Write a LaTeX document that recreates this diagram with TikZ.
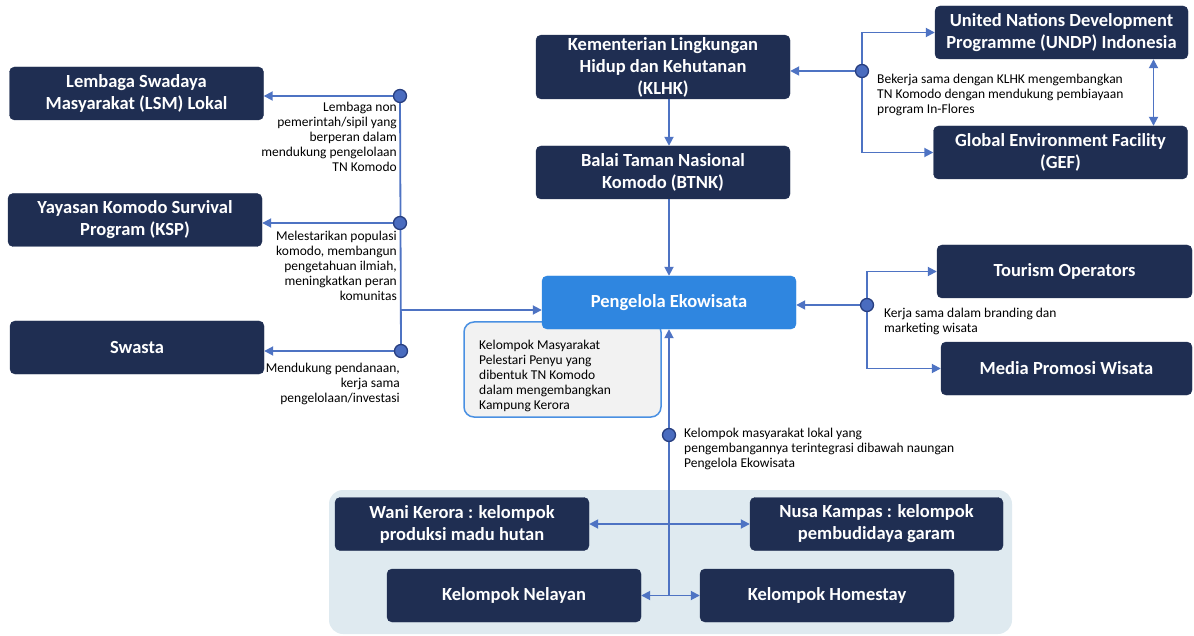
\documentclass[tikz,border=0pt]{standalone}
\usepackage{fontspec}
\setmainfont{Carlito}
\usetikzlibrary{arrows.meta}
\pgfdeclarelayer{panel}
\pgfdeclarelayer{lines}
\pgfsetlayers{panel,lines,main}
\definecolor{navy}{HTML}{1F2E52}
\definecolor{ekoblue}{HTML}{2F86E0}
\definecolor{linkblue}{HTML}{4E73C3}
\definecolor{dotblue}{HTML}{4A6CBF}
\definecolor{dotrim}{HTML}{283F80}
\definecolor{panelbg}{HTML}{DFEAF0}
\definecolor{notebg}{HTML}{F2F2F2}
\definecolor{noterim}{HTML}{4A90E2}
\tikzset{
  actor/.style={draw=navy, fill=navy, text=white, rounded corners=5pt, minimum width=254pt, minimum height=53pt, align=center, font=\fontsize{18.5}{22}\selectfont\bfseries, inner sep=2pt},
  hub/.style={circle, fill=dotblue, draw=dotrim, line width=1.3pt, minimum size=13pt, inner sep=0pt},
  wire/.style={draw=linkblue, line width=1.8pt},
  link/.style={wire, -{Triangle[length=9pt,width=9pt]}},
  both/.style={wire, {Triangle[length=9pt,width=9pt]}-{Triangle[length=9pt,width=9pt]}},
  role/.style={inner sep=0pt, font=\fontsize{13.5}{15}\selectfont},
}
\begin{document}
\begin{tikzpicture}[x=1pt,y=-1pt]
\useasboundingbox (0,0) rectangle (1194,636);
% community panel and note
\begin{pgfonlayer}{panel}
\fill[panelbg, rounded corners=14pt] (329,490) rectangle (1012,634);
\end{pgfonlayer}
\node[draw=noterim, fill=notebg, line width=1.5pt, rounded corners=10pt, minimum width=197pt, minimum height=95pt] (note) at (562.5,369.5) {};
\node[role, anchor=north west, align=left] (notetxt) at (479,340) {Kelompok Masyarakat\\Pelestari Penyu yang\\dibentuk TN Komodo\\dalam mengembangkan\\Kampung Kerora};

% actors
\node[actor] (lsm) at (136.5,93.5) {Lembaga Swadaya\\Masyarakat (LSM) Lokal};
\node[actor] (ksp) at (135,220) {Yayasan Komodo Survival\\Program (KSP)};
\node[actor] (swasta) at (137,347.5) {Swasta};
\node[actor] (klhk) at (663,67) {Kementerian Lingkungan\\Hidup dan Kehutanan\\(KLHK)};
\node[actor] (btnk) at (663,172.5) {Balai Taman Nasional\\Komodo (BTNK)};
\node[actor, fill=ekoblue, draw=ekoblue] (peng) at (669,302.5) {Pengelola Ekowisata};
\node[actor, minimum width=253pt] (undp) at (1061.5,32.5) {United Nations Development\\Programme (UNDP) Indonesia};
\node[actor] (gef) at (1060.5,152.5) {Global Environment Facility\\(GEF)};
\node[actor, minimum width=255pt] (tour) at (1064.5,271.5) {Tourism Operators};
\node[actor, minimum width=251pt] (media) at (1066.5,368.5) {Media Promosi Wisata};
\node[actor] (wani) at (462,524) {Wani Kerora : kelompok\\produksi madu hutan};
\node[actor, minimum width=253pt] (nusa) at (876.5,524) {Nusa Kampas : kelompok\\pembudidaya garam};
\node[actor] (nelayan) at (514,595.5) {Kelompok Nelayan};
\node[actor] (homestay) at (827,595.5) {Kelompok Homestay};

% hubs
\coordinate (lsplit) at (400,310);
\coordinate (mid) at (669,595.5);
\node[hub] (hl1) at (400,96) {};
\node[hub] (hl2) at (400,223) {};
\node[hub] (hl3) at (401,351) {};
\node[hub] (hk) at (862,71) {};
\node[hub] (hp) at (867,305) {};
\node[hub] (hq) at (669,435) {};

% connectors
\begin{pgfonlayer}{lines}
\draw[wire] (hl1.center) -- (hl3.center);
\draw[link] (hl1) -- (lsm.east |- hl1);
\draw[link] (hl2) -- (ksp.east |- hl2);
\draw[link] (hl3) -- (swasta.east |- hl3);
\draw[link] (lsplit) -- (peng.west |- lsplit);
\draw[link] (klhk.south -| peng) -- (btnk.north -| peng);
\draw[link] (btnk.south -| peng) -- (peng.north);
\draw[link] (hk) -- (klhk.east |- hk);
\draw[link] (hk) |- (undp.west);
\draw[link] (hk) |- (gef.west);
\draw[both] ([xshift=92pt]undp.south) -- ([xshift=93pt]gef.north);
\draw[link] (hp) -- (peng.east |- hp);
\draw[link] (hp) |- (tour.west);
\draw[link] (hp) |- (media.west);
\draw[link] (mid) -- (peng.south);
\draw[both] (nelayan.east) -- (homestay.west);
\draw[both] (wani.east) -- (nusa.west);
\end{pgfonlayer}

% labels
\node[role, anchor=north east, align=right] (lsmnote) at (397,102) {Lembaga non\\pemerintah/sipil yang\\berperan dalam\\mendukung pengelolaan\\TN Komodo};
\node[role, anchor=north east, align=right] (kspnote) at (397,231) {Melestarikan populasi\\komodo, membangun\\pengetahuan ilmiah,\\meningkatkan peran\\komunitas};
\node[role, anchor=north east, align=right] (swnote) at (400,363) {Mendukung pendanaan,\\kerja sama\\pengelolaan/investasi};
\node[role, anchor=north west, align=left] (undpnote) at (877,74) {Bekerja sama dengan KLHK mengembangkan\\TN Komodo dengan mendukung pembiayaan\\program In-Flores};
\node[role, anchor=north west, align=left] (tournote) at (884,308) {Kerja sama dalam branding dan\\marketing wisata};
\node[role, anchor=north west, align=left] (commnote) at (684,428) {Kelompok masyarakat lokal yang\\pengembangannya terintegrasi dibawah naungan\\Pengelola Ekowisata};
\end{tikzpicture}
\end{document}
